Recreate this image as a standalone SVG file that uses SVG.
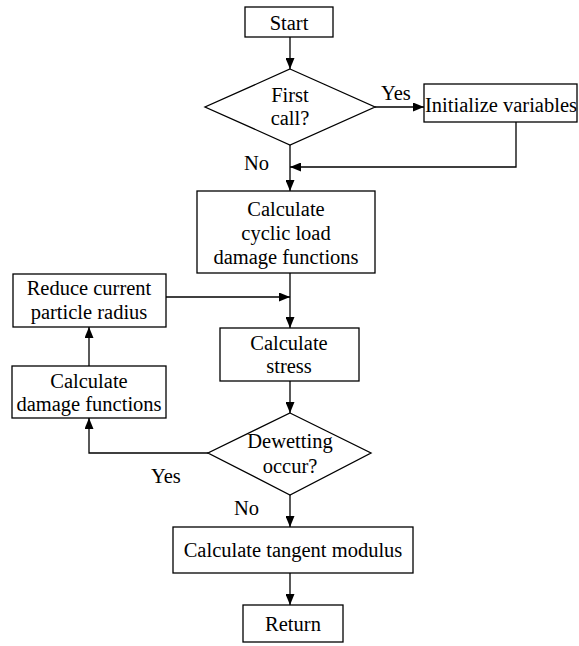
<svg xmlns="http://www.w3.org/2000/svg" width="579" height="646" viewBox="0 0 579 646">
<defs>
<marker id="ah" markerUnits="userSpaceOnUse" markerWidth="11" markerHeight="9" refX="11" refY="4.5" orient="auto">
<path d="M0,0 L11,4.5 L0,9 z" fill="#000"/>
</marker>
<style>
rect, polygon { fill: #fff; stroke: #000; stroke-width: 1.3; }
.c path { fill: none; stroke: #000; stroke-width: 1.3; marker-end: url(#ah); }
text { font-family: "Liberation Serif", "Times New Roman", serif; font-size: 20.5px; fill: #000; text-anchor: middle; }
text.l { text-anchor: start; }
</style>
</defs>
<rect x="0" y="0" width="579" height="646" style="fill:#fff;stroke:none"/>
<g class="c" id="connectors">
<path d="M290,37 L290,69"/>
<path d="M290,145 L290,191"/>
<path d="M375,107 L424,107"/>
<path d="M516,122 L516,167 L290,167"/>
<path d="M290,273 L290,328"/>
<path d="M166,297 L290,297"/>
<path d="M290,381 L290,413"/>
<path d="M290,495 L290,527"/>
<path d="M290,573 L290,605"/>
<path d="M208,453 L89,453 L89,418"/>
<path d="M89,366 L89,327"/>
<text class="l" x="381" y="100">Yes</text>
<text class="l" x="244" y="170">No</text>
<text class="l" x="151" y="483">Yes</text>
<text class="l" x="234" y="515">No</text>
</g>
<g id="start"><rect x="245" y="7" width="88" height="30"/><text x="289" y="30">Start</text></g>
<g id="first"><polygon points="290,69 375,107 290,145 205,107"/><text x="290" y="102">First</text><text x="290" y="125">call?</text></g>
<g id="init"><rect x="424" y="84" width="153" height="38"/><text x="501" y="112">Initialize variables</text></g>
<g id="cyclic"><rect x="197" y="191" width="178" height="82"/><text x="286" y="216">Calculate</text><text x="286" y="240">cyclic load</text><text x="286" y="264">damage functions</text></g>
<g id="reduce"><rect x="13" y="274" width="153" height="53"/><text x="89" y="295">Reduce current</text><text x="89" y="319">particle radius</text></g>
<g id="stress"><rect x="220" y="328" width="139" height="53"/><text x="289" y="350">Calculate</text><text x="289" y="373">stress</text></g>
<g id="damage"><rect x="12" y="366" width="154" height="52"/><text x="89" y="388">Calculate</text><text x="89" y="411">damage functions</text></g>
<g id="dewet"><polygon points="290,413 371,453 290,495 208,453"/><text x="290" y="448">Dewetting</text><text x="290" y="473">occur?</text></g>
<g id="tangent"><rect x="173" y="527" width="240" height="46"/><text x="293" y="557">Calculate tangent modulus</text></g>
<g id="return"><rect x="243" y="605" width="100" height="37"/><text x="293" y="631">Return</text></g>
</svg>
